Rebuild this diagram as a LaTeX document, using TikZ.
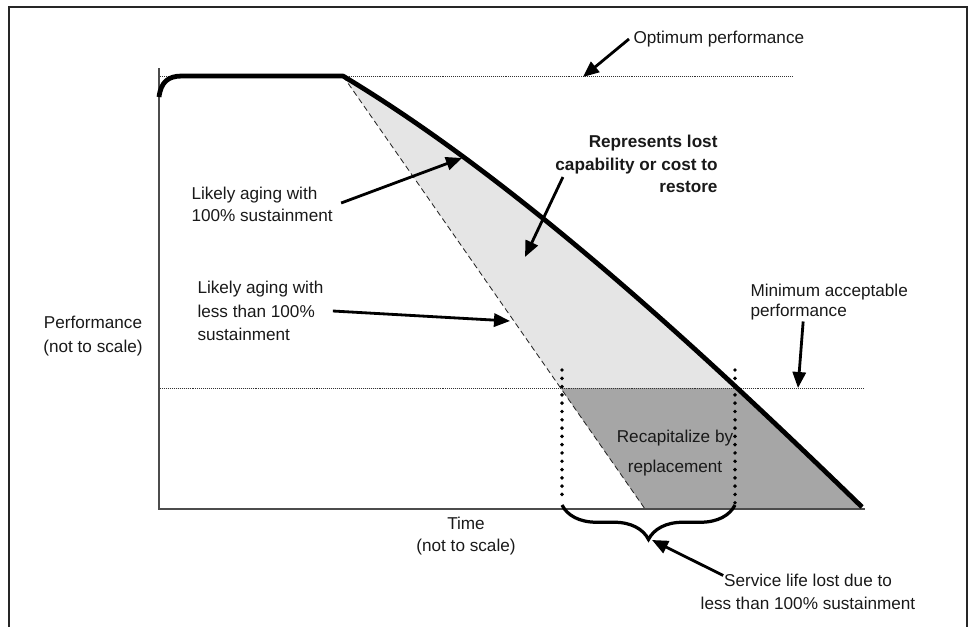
\documentclass[tikz,border=0pt]{standalone}
\usepackage{fontspec}
\setmainfont{Liberation Sans}
\usetikzlibrary{arrows.meta,decorations.pathreplacing}
\tikzset{
        frame/.style={draw=black!85, line width=1.3pt},
        axis/.style={draw=black!70, line width=0.9pt},
        limit/.style={draw=black!80, line width=0.5pt, dash pattern=on 0.7pt off 0.7pt},
        perf/.style={draw=black, line width=3.4pt, line join=round},
        decay/.style={draw=black!85, line width=0.6pt, dash pattern=on 4pt off 2.5pt},
        lossarea/.style={fill=black!10},
        replarea/.style={fill=black!35},
        window/.style={draw=black, line width=2.8pt, line cap=round, dash pattern=on 0pt off 5.9pt},
        bracket/.style={draw=black, line width=2.3pt, decorate, decoration={brace, mirror, amplitude=24.5pt}},
        pointer/.style={draw=black, line width=2pt, -{Triangle[length=4mm, width=3.3mm]}},
        lbl/.style={font=\fontsize{12.2}{#1}\selectfont, text=black!90, inner sep=3pt}
          }

\begin{document}
\begin{tikzpicture}[x=0.025cm, y=-0.025cm]
            \useasboundingbox (0,0) rectangle (972,626);
            \draw[frame] (9,640) -- (9,7) -- (967,7) -- (967,640);

            \coordinate (knee) at (343,76);
            \coordinate (fullEnd) at (862,507);
            \coordinate (lessEnd) at (645,509);

            % lost capability, upper and lower part
            \fill[lossarea] (knee) .. controls (523,184) and (712,361.5) .. (fullEnd) -- (862,509) -- (lessEnd) -- cycle;
            \begin{scope}
              \clip (159,388) rectangle (870,509);
              \fill[replarea] (knee) .. controls (523,184) and (712,361.5) .. (fullEnd) -- (862,509) -- (lessEnd) -- cycle;
            \end{scope}

            \draw[axis] (159,68) -- (159,509) -- (865,509);
            \draw[limit] (160,76) -- (793,76);
            \draw[limit] (160,388) -- (863,388);

            \draw[decay] (knee) -- (lessEnd);
            \draw[perf] (159,97) .. controls (161,82) and (168,76) .. (182,76) -- (336,76)
              .. controls (340,76) and (341,76) .. (knee)
              .. controls (523,184) and (712,361.5) .. (fullEnd);

            \draw[window] (562,370) -- (562,500);
            \draw[window] (735,370) -- (735,505);
            \draw[bracket] (562,505) -- (735,505);

            \coordinate (optTip) at (583,77);
            \coordinate (repTip) at (525,257);
            \coordinate (likTip) at (462,158);
            \coordinate (lessTip) at (510,321);
            \coordinate (minTip) at (798,388);
            \coordinate (lifeTip) at (652,540);

            \node[lbl=15.6pt, anchor=west] (optlbl) at (629,39) {Optimum performance};
            \node[lbl=16pt, font=\fontsize{12.2}{16pt}\selectfont\bfseries, align=right, anchor=east] (replbl) at (722,164)
              {Represents lost\\capability or cost to\\restore};
            \node[lbl=15.6pt, align=left, anchor=west] (liklbl) at (187,204) {Likely aging with\\100\% sustainment};
            \node[lbl=16.7pt, align=left, anchor=west] (lesslbl) at (193,311) {Likely aging with\\less than 100\%\\sustainment};
            \node[lbl=14.2pt, align=left, anchor=west] (minlbl) at (746,302) {Minimum acceptable\\performance};
            \node[lbl=17pt, align=center] (perflbl) at (93,336) {Performance\\(not to scale)};
            \node[lbl=15.6pt, align=center] (timelbl) at (466,536) {Time\\(not to scale)};
            \node[lbl=21.3pt, align=center] (recaplbl) at (675,453) {Recapitalize by\\replacement};
            \node[lbl=16.3pt, align=center] (lifelbl) at (808,591.5) {Service life lost due to\\less than 100\% sustainment};

            \draw[pointer] (optlbl.west) -- (optTip);
            \draw[pointer] ([shift={(12,13)}]replbl.west) -- (repTip);
            \draw[pointer] ([shift={(4,-1)}]liklbl.east) -- (likTip);
            \draw[pointer] ([shift={(5,0)}]lesslbl.east) -- (lessTip);
            \draw[pointer] ([shift={(-26,-3)}]minlbl.south) -- (minTip);
            \draw[pointer] ([shift={(27,-16)}]lifelbl.west) -- (lifeTip);
          \end{tikzpicture}
\end{document}
